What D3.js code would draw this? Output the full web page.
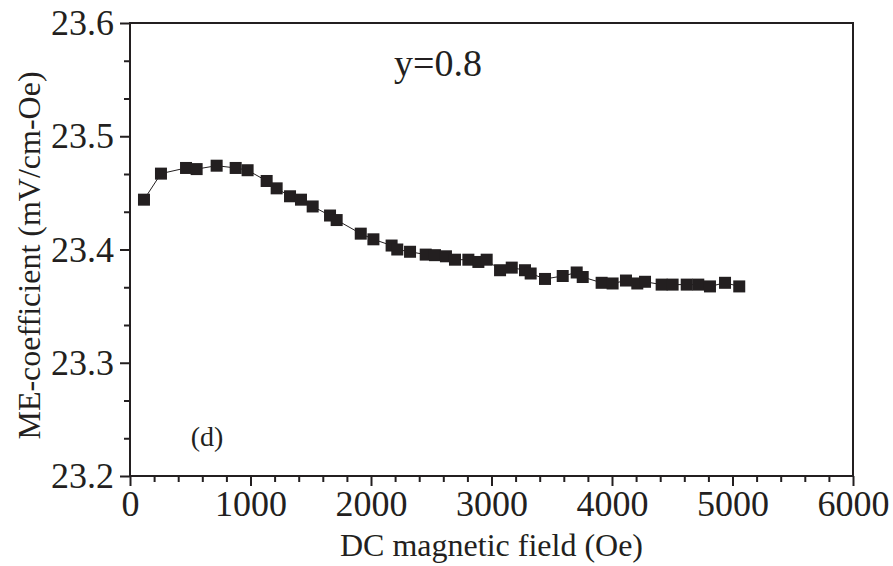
<!DOCTYPE html>
<html><head><meta charset="utf-8">
<script src="https://cdn.jsdelivr.net/npm/d3@7"></script>
<style>body{margin:0;background:#fff}svg{display:block}</style>
</head><body><svg id="c" width="893" height="566"></svg>
<script>
const field = [116,257,465,553,719,877,976,1134,1217,1328,1419,1516,1660,1715,1915,2020,2171,2218,2324,2454,2531,2622,2697,2808,2891,2960,3071,3168,3278,3325,3444,3591,3707,3757,3914,4005,4116,4210,4274,4412,4503,4620,4716,4813,4938,5056];
const meCoef = [23.444,23.467,23.472,23.471,23.474,23.472,23.470,23.4605,23.454,23.447,23.444,23.438,23.430,23.426,23.414,23.409,23.4035,23.400,23.398,23.3955,23.395,23.394,23.391,23.391,23.389,23.391,23.3817,23.384,23.3817,23.3788,23.374,23.3766,23.3797,23.3757,23.3706,23.370,23.3726,23.370,23.3715,23.369,23.369,23.369,23.369,23.3674,23.3706,23.3674];
const xTicks = [0,1000,2000,3000,4000,5000,6000];
const yTicks = [23.2,23.3,23.4,23.5,23.6];
const xLabel = "DC magnetic field (Oe)";
const yLabel = "ME-coefficient (mV/cm-Oe)";
const note = "y=0.8";
const panel = "(d)";

const svg = d3.select("#c");
const FONT = "'Liberation Serif','Times New Roman',serif";

const L=130,R=853,T=23,B=476;
const x = d3.scaleLinear().domain([0,6000]).range([L,R]);
const y = d3.scaleLinear().domain([23.2,23.6]).range([B,T]);
const ink = "#231f20";

svg.append("rect").attr("x",L).attr("y",T).attr("width",R-L).attr("height",B-T)
  .attr("fill","none").attr("stroke",ink).attr("stroke-width",2);

const xMinor = d3.range(0,6001,200).filter(v=>v%1000!==0);
const yMinor = d3.range(0,12).map(i=>23.2+i*0.1/3).filter((v,i)=>i%3!==0);
const gxm = svg.append("g").attr("transform",`translate(0,${B})`)
  .call(d3.axisBottom(x).tickValues(xMinor).tickSize(6).tickFormat(""));
const gym = svg.append("g").attr("transform",`translate(${L},0)`)
  .call(d3.axisLeft(y).tickValues(yMinor).tickSize(6).tickFormat(""));
[gxm,gym].forEach(g=>{g.select(".domain").remove();g.selectAll("line").attr("stroke",ink).attr("stroke-width",2);});

const gx = svg.append("g").attr("transform",`translate(0,${B})`)
  .call(d3.axisBottom(x).tickValues(xTicks).tickSize(10).tickPadding(4).tickFormat(d3.format("d")));
const gy = svg.append("g").attr("transform",`translate(${L},0)`)
  .call(d3.axisLeft(y).tickValues(yTicks).tickSize(10).tickPadding(6).tickFormat(d3.format(".1f")));
[gx,gy].forEach(g=>{g.attr("font-family",FONT).attr("font-size",36);g.select(".domain").remove();g.selectAll("line").attr("stroke",ink).attr("stroke-width",2);
  g.selectAll("text").attr("fill",ink);});

const pts = field.map((f,i)=>[f,meCoef[i]]);
svg.append("path").datum(pts).attr("fill","none").attr("stroke",ink).attr("stroke-width",1)
  .attr("d",d3.line().x(d=>x(d[0])).y(d=>y(d[1])));
const s=12;
svg.append("g").selectAll("rect").data(pts).join("rect")
  .attr("x",d=>x(d[0])-s/2).attr("y",d=>y(d[1])-s/2).attr("width",s).attr("height",s)
  .attr("fill",ink);

const txt = (sel)=>sel.attr("font-family",FONT).attr("fill",ink);
svg.append("text").call(txt).attr("x",(L+R)/2).attr("y",556).attr("text-anchor","middle")
  .attr("font-size",32).text(xLabel);
svg.append("text").call(txt).attr("transform",`translate(40,${(T+B)/2+6}) rotate(-90)`).attr("text-anchor","middle")
  .attr("font-size",32).text(yLabel);
svg.append("text").call(txt).attr("x",438).attr("y",76).attr("text-anchor","middle").attr("font-size",38).text(note);
svg.append("text").call(txt).attr("x",207).attr("y",446).attr("text-anchor","middle").attr("font-size",28).text(panel);
</script></body></html>
